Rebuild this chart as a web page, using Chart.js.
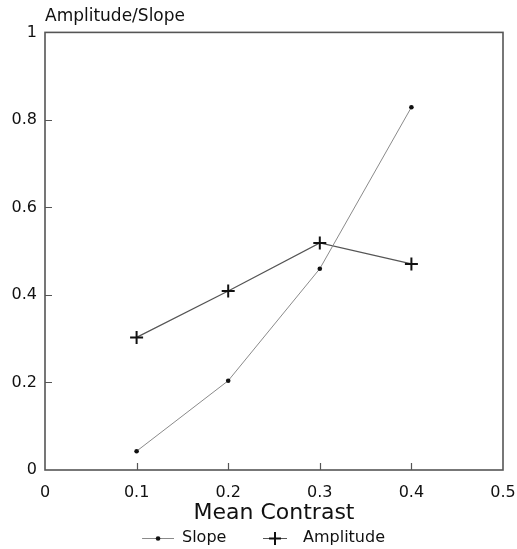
<!DOCTYPE html>
<html>
<head>
<meta charset="utf-8">
<script src="https://cdn.jsdelivr.net/npm/chart.js@4.4.1/dist/chart.umd.min.js"></script>
<style>
  html, body { margin: 0; padding: 0; background: #fff; }
  #wrap { width: 517px; height: 549px; }
</style>
</head>
<body>
<div id="wrap"><canvas id="chart"></canvas></div>
<script>
// data
var contrast = [0.1, 0.2, 0.3, 0.4];
var slope = [0.043, 0.204, 0.46, 0.829];
var amplitude = [0.303, 0.409, 0.519, 0.471];
var xTicks = [0.1, 0.2, 0.3, 0.4];
var yTicks = [0.2, 0.4, 0.6, 0.8];

var FONT = "'DejaVu Sans', sans-serif";

function pts(xs, ys) {
    return xs.map(function (x, i) { return { x: x, y: ys[i] }; });
}

function fmt(v) {
    return String(+(+v).toFixed(1));
}

// legend images: line with the marker on it (box is 42 wide)
function legendIcon(kind) {
    var c = document.createElement('canvas');
    c.width = 42; c.height = 16;
    var g = c.getContext('2d');
    g.lineWidth = 1;
    if (kind === 'dot') {
        g.strokeStyle = '#8a8a8a';
        g.beginPath(); g.moveTo(10, 8.5); g.lineTo(42, 8.5); g.stroke();
        g.fillStyle = '#111';
        g.beginPath(); g.arc(26, 8.5, 2.3, 0, Math.PI * 2); g.fill();
    } else {
        g.strokeStyle = '#555';
        g.beginPath(); g.moveTo(10, 8.5); g.lineTo(34, 8.5); g.stroke();
        g.strokeStyle = '#111';
        g.lineWidth = 2;
        g.beginPath(); g.moveTo(22, 2); g.lineTo(22, 15); g.stroke();
        g.beginPath(); g.moveTo(16, 8.5); g.lineTo(28, 8.5); g.stroke();
    }
    return c;
}

// box round the plot and inward tick marks
const framePlugin = {
    id: 'frame',
    beforeDatasetsDraw(chart) {
        const ctx = chart.ctx;
        const a = chart.chartArea;
        const xs = chart.scales.x, ys = chart.scales.y;
        ctx.save();
        ctx.strokeStyle = '#555';
        ctx.lineWidth = 1.6;
        ctx.strokeRect(a.left, a.top, a.right - a.left, a.bottom - a.top);
        ctx.lineWidth = 1.2;
        ctx.beginPath();
        xTicks.forEach(function (v) {
            var px = Math.round(xs.getPixelForValue(v)) + 0.5;
            ctx.moveTo(px, a.bottom); ctx.lineTo(px, a.bottom - 7);
        });
        yTicks.forEach(function (v) {
            var py = Math.round(ys.getPixelForValue(v)) + 0.5;
            ctx.moveTo(a.left, py); ctx.lineTo(a.left + 7, py);
        });
        ctx.stroke();
        ctx.restore();
    }
};

const icons = { 'Slope': legendIcon('dot'), 'Amplitude': legendIcon('cross') };

new Chart(document.getElementById('chart'), {
    type: 'line',
    data: {
        datasets: [{
            label: 'Slope',
            data: pts(contrast, slope),
            borderColor: '#8a8a8a',
            borderWidth: 1,
            pointStyle: 'circle',
            pointRadius: 2.3,
            pointBackgroundColor: '#111',
            pointBorderWidth: 0,
            tension: 0
        }, {
            label: 'Amplitude',
            data: pts(contrast, amplitude),
            borderColor: '#555',
            borderWidth: 1.2,
            pointStyle: 'cross',
            pointRadius: 6.5,
            pointBorderColor: '#111',
            pointBorderWidth: 2,
            tension: 0
        }]
    },
    options: {
        responsive: true,
        maintainAspectRatio: false,
        animation: false,
        layout: { padding: 0 },
        scales: {
            x: {
                type: 'linear',
                min: 0, max: 0.5,
                grid: { display: false, drawTicks: false },
                border: { display: false },
                ticks: { stepSize: 0.1, padding: 13, color: '#111', font: { family: FONT, size: 16 }, callback: fmt },
                title: {
                    display: true, text: 'Mean Contrast', color: '#111',
                    font: { family: FONT, size: 22 }, padding: { top: 0, bottom: -22.8 }
                },
                afterFit: function (s) { s.height = 33.4; s.paddingLeft = 0; s.paddingRight = 14; }
            },
            y: {
                min: 0, max: 1,
                grid: { display: false, drawTicks: false },
                border: { display: false },
                ticks: { stepSize: 0.2, padding: 8, color: '#111', font: { family: FONT, size: 16 }, callback: fmt },
                afterFit: function (s) { s.width = 45; }
            }
        },
        plugins: {
            title: {
                display: true,
                text: 'Amplitude/Slope',
                align: 'start',
                fullSize: false,
                color: '#111',
                font: { family: FONT, size: 17, weight: 'normal' },
                padding: { top: 6, bottom: 6 }
            },
            legend: {
                position: 'bottom',
                maxHeight: 45.6,
                labels: {
                    usePointStyle: true,
                    pointStyleWidth: 42,
                    padding: 26.6,
                    color: '#111',
                    font: { family: FONT, size: 16 },
                    generateLabels: function (chart) {
                        var items = Chart.defaults.plugins.legend.labels.generateLabels(chart);
                        items.forEach(function (it) { it.pointStyle = icons[it.text]; });
                        return items;
                    }
                }
            },
            tooltip: { enabled: false }
        }
    },
    plugins: [framePlugin]
});
</script>
</body>
</html>
